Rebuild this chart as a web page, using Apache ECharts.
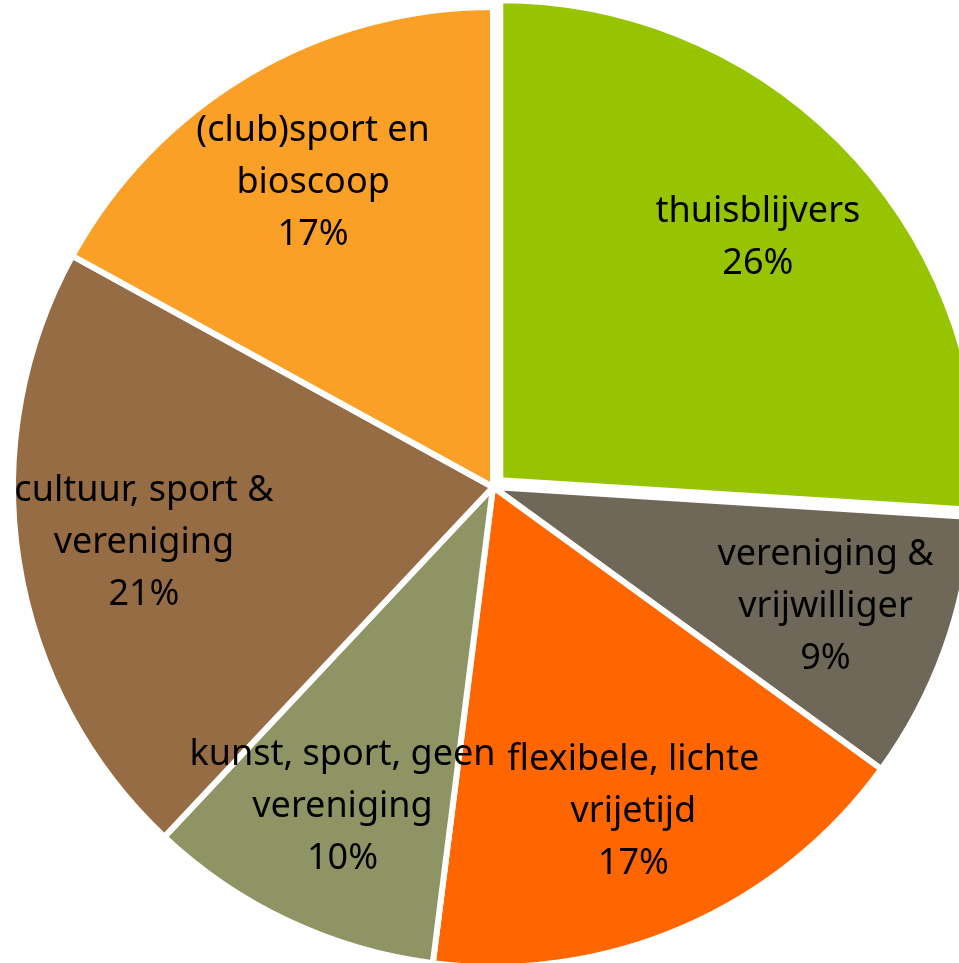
<!DOCTYPE html>
<html>
<head>
<meta charset="utf-8">
<script src="https://cdn.jsdelivr.net/npm/echarts@6/dist/echarts.min.js"></script>
<style>
  html, body { margin: 0; padding: 0; background: #fff; }
  #main { width: 959px; height: 963px; }
</style>
</head>
<body>
<div id="main"></div>
<script>
// categorieen en aandelen (%)
var categories = [
  'thuisblijvers',
  'vereniging &\nvrijwilliger',
  'flexibele, lichte\nvrijetijd',
  'kunst, sport, geen\nvereniging',
  'cultuur, sport &\nvereniging',
  '(club)sport en\nbioscoop'
];
var shares = [26, 9, 17, 10, 21, 17];
var colors = ['#96C400', '#6F6757', '#FF6600', '#8F9464', '#966C44', '#FBA026'];

var chart = echarts.init(document.getElementById('main'));

var pieData = categories.map(function (name, i) {
  return { name: name, value: shares[i], selected: i === 0 };
});

var center = [493, 487];
var R = 480;

var option = {
  animation: false,
  color: colors,
  series: [
    {
      type: 'pie',
      center: center,
      radius: [0, R],
      startAngle: 90,
      clockwise: true,
      selectedMode: 'single',
      selectedOffset: 10,
      itemStyle: { borderColor: '#fff', borderWidth: 6 },
      label: { show: false },
      labelLine: { show: false },
      emphasis: { scale: false },
      data: pieData
    },
    {
      // alleen voor de labels
      type: 'pie',
      silent: true,
      center: center,
      radius: [R * 0.46, R],
      startAngle: 90,
      clockwise: true,
      selectedMode: 'single',
      selectedOffset: 10,
      itemStyle: { color: 'transparent', borderWidth: 0 },
      label: {
        show: true,
        position: 'inside',
        formatter: function (p) { return p.name + '\n' + p.value + '%'; },
        color: '#000',
        fontFamily: 'Noto Sans',
        fontSize: 36,
        lineHeight: 52,
        align: 'center'
      },
      labelLine: { show: false },
      data: pieData
    }
  ]
};
chart.setOption(option);
</script>
</body>
</html>
